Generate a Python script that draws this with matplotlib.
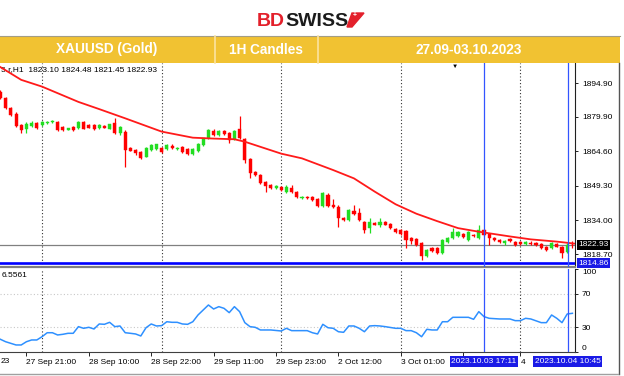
import matplotlib.pyplot as plt
import matplotlib.transforms as mtransforms
from matplotlib.patches import Rectangle, Polygon
from matplotlib.lines import Line2D

plt.rcParams['font.family'] = ['Liberation Sans', 'DejaVu Sans']

# --- data (XAUUSD H1, 27 Sep 16:00 .. 4 Oct 11:00) ---
opens = [1891.0, 1888.2, 1883.8, 1881.2, 1876.2, 1874.6, 1875.8, 1877.1, 1876.2, 1877.1,
         1877.6, 1877.7, 1875.3, 1874.2, 1875.3, 1874.9, 1877.6, 1876.2, 1876.2, 1874.9,
         1876.0, 1874.6, 1877.0, 1872.6, 1873.3, 1865.8, 1865.1, 1864.2, 1862.2, 1865.1,
         1865.4, 1866.1, 1865.4, 1867.0, 1865.4, 1866.6, 1865.4, 1863.3, 1864.8, 1867.3,
         1870.3, 1873.7, 1871.8, 1873.7, 1872.6, 1869.9, 1874.3, 1869.9, 1861.0, 1855.5,
         1854.0, 1851.0, 1849.6, 1848.4, 1848.6, 1846.4, 1848.4, 1846.5, 1843.8, 1844.2,
         1844.4, 1843.4, 1840.2, 1845.2, 1840.6, 1840.0, 1835.0, 1834.0, 1838.0, 1837.0,
         1833.0, 1830.4, 1832.7, 1832.0, 1833.1, 1832.2, 1830.0, 1829.5, 1829.1, 1826.0,
         1825.5, 1823.8, 1818.0, 1821.6, 1821.6, 1819.3, 1824.4, 1825.8, 1827.0, 1827.8,
         1825.1, 1827.3, 1826.1, 1829.5, 1827.6, 1826.0, 1825.1, 1823.6, 1825.4, 1824.4,
         1824.4, 1823.3, 1824.0, 1824.0, 1823.3, 1821.9, 1821.5, 1823.3, 1821.9, 1819.6,
         1823.10]
highs = [1892.0, 1888.8, 1884.2, 1881.8, 1876.6, 1877.6, 1878.0, 1877.6, 1878.2, 1877.9,
         1878.4, 1878.1, 1875.6, 1875.0, 1875.6, 1878.0, 1878.2, 1876.6, 1876.6, 1876.7,
         1876.4, 1876.8, 1879.5, 1875.6, 1873.8, 1866.3, 1865.6, 1864.6, 1866.3, 1867.7,
         1868.0, 1866.6, 1867.8, 1867.6, 1866.5, 1867.0, 1865.8, 1865.9, 1868.4, 1870.5,
         1874.3, 1874.3, 1874.0, 1874.1, 1873.0, 1874.0, 1880.2, 1870.6, 1861.5, 1856.0,
         1854.4, 1851.4, 1850.0, 1849.4, 1849.0, 1849.4, 1849.5, 1847.0, 1844.8, 1844.6,
         1844.8, 1843.8, 1846.6, 1845.8, 1843.4, 1840.5, 1835.4, 1838.8, 1840.8, 1839.4,
         1833.5, 1834.9, 1833.2, 1834.9, 1833.6, 1832.6, 1830.4, 1830.0, 1829.6, 1826.5,
         1826.0, 1824.3, 1821.1, 1822.0, 1822.0, 1825.6, 1826.4, 1830.4, 1829.0, 1828.2,
         1828.9, 1827.8, 1831.8, 1830.0, 1828.1, 1826.4, 1825.5, 1825.3, 1825.9, 1824.8,
         1824.8, 1824.6, 1824.5, 1824.4, 1823.8, 1822.3, 1824.2, 1823.8, 1822.3, 1823.6,
         1824.48]
lows = [1888.0, 1883.5, 1880.3, 1875.4, 1872.7, 1872.5, 1875.3, 1874.5, 1875.6, 1876.8,
        1877.2, 1873.6, 1873.7, 1873.8, 1873.7, 1874.5, 1874.3, 1874.9, 1874.0, 1874.5,
        1874.8, 1874.3, 1872.3, 1871.8, 1857.7, 1864.5, 1862.9, 1861.3, 1861.8, 1864.8,
        1865.0, 1864.0, 1865.0, 1865.6, 1865.0, 1863.8, 1862.8, 1862.9, 1864.4, 1866.9,
        1870.0, 1871.5, 1871.4, 1871.8, 1868.1, 1869.4, 1869.9, 1859.2, 1852.5, 1853.6,
        1850.2, 1846.6, 1847.8, 1847.9, 1846.9, 1846.0, 1846.1, 1844.0, 1843.5, 1843.5,
        1842.6, 1839.9, 1839.8, 1839.8, 1839.4, 1831.0, 1833.6, 1833.6, 1836.2, 1833.6,
        1828.1, 1828.1, 1831.6, 1830.9, 1831.6, 1830.2, 1828.4, 1827.5, 1821.6, 1823.4,
        1822.5, 1816.2, 1817.6, 1820.0, 1818.9, 1818.9, 1824.0, 1825.4, 1826.6, 1826.0,
        1824.7, 1826.5, 1825.7, 1826.9, 1822.9, 1824.6, 1823.8, 1822.8, 1824.3, 1822.5,
        1822.9, 1822.9, 1822.8, 1822.5, 1821.2, 1820.3, 1821.1, 1821.8, 1817.0, 1819.2,
        1821.45]
closes = [1888.2, 1883.8, 1880.7, 1875.8, 1874.0, 1876.7, 1877.1, 1874.9, 1877.6, 1877.7,
          1878.0, 1874.0, 1874.0, 1874.8, 1874.0, 1877.6, 1874.6, 1875.1, 1874.5, 1876.2,
          1875.1, 1876.6, 1872.6, 1875.5, 1865.1, 1864.8, 1863.6, 1861.7, 1865.9, 1867.3,
          1867.6, 1864.4, 1867.3, 1866.0, 1866.2, 1864.2, 1863.3, 1865.5, 1868.0, 1870.3,
          1874.0, 1871.8, 1873.7, 1872.1, 1869.6, 1873.7, 1870.3, 1860.7, 1854.8, 1854.0,
          1850.3, 1849.1, 1848.4, 1848.9, 1847.3, 1848.8, 1846.5, 1844.4, 1844.4, 1843.8,
          1842.9, 1840.2, 1845.9, 1840.2, 1839.7, 1834.8, 1834.0, 1838.5, 1836.6, 1834.0,
          1829.6, 1833.2, 1831.8, 1832.9, 1832.0, 1830.4, 1828.7, 1827.8, 1825.1, 1824.8,
          1822.9, 1818.0, 1820.7, 1820.3, 1819.3, 1825.1, 1826.0, 1828.8, 1828.7, 1826.4,
          1828.5, 1826.9, 1829.5, 1827.3, 1825.8, 1824.9, 1824.2, 1824.8, 1824.7, 1822.9,
          1823.2, 1824.3, 1823.5, 1822.9, 1821.5, 1820.7, 1823.7, 1822.1, 1819.5, 1823.1,
          1822.93]

ma_bars = [-0.1, 4, 8, 15, 19, 24, 31, 37, 41, 45, 47, 54, 58, 61, 64, 68, 72, 76,
           80, 84, 88, 92, 98, 102, 107, 110.5]
ma_vals = [1902.1, 1896.3, 1893.3, 1886.5, 1883.3, 1879.2, 1873.3, 1870.6, 1870.2,
           1869.9, 1868.8, 1863.5, 1861.4, 1858.8, 1856.2, 1852.5, 1846.6, 1841.0,
           1836.8, 1833.5, 1830.4, 1828.8, 1826.7, 1825.4, 1824.4, 1823.5]

rsi_bars = [0, 1, 3, 4, 5, 6, 7, 8, 9, 10,
            11, 12, 13, 14, 15, 16, 17, 18, 19, 20, 21, 22, 23, 24, 25, 26, 27, 28,
            29, 30, 31, 32, 33, 34, 35, 36, 37, 38,
            40, 41, 42, 43, 44, 45, 46, 47, 48, 49, 50, 51, 52,
            54, 55, 56, 57,
            59, 60, 61, 62, 63, 64, 65, 66, 67, 68, 69, 70, 71, 72, 73, 74,
            76, 77, 78, 79, 80, 81, 82, 83, 84, 85, 86, 87, 88,
            90, 91, 92, 93, 94,
            96, 98, 99, 100, 101, 102,
            104, 105, 106, 107, 108, 109, 110]
rsi_vals = [15.6, 12.7, 8.8, 8.8, 12.7, 14.8, 14.8, 18.7, 23.5, 23.5,
            20.8, 21.6, 22.8, 22.8, 30.8, 28.8, 30.0, 28.0, 34.0, 33.6, 36.0, 30.8,
            31.6, 23.5, 22.8, 22.0, 19.6, 29.5, 34.0, 31.6, 32.0, 36.7, 36.0, 36.0,
            34.0, 33.6, 36.7, 44.8,
            56.8, 52.0, 54.8, 52.8, 47.6, 54.8, 48.8, 35.6, 30.8, 30.0, 26.8, 26.8, 26.8,
            25.6, 28.8, 26.0, 26.0,
            26.0, 23.5, 22.0, 33.6, 29.5, 28.8, 24.7, 24.0, 31.6, 31.6, 28.8, 24.7,
            31.6, 32.0, 31.6, 30.8,
            28.8, 28.8, 26.0, 26.0, 23.5, 18.7, 27.6, 26.8, 26.8, 36.7, 36.7, 42.0, 42.0,
            42.0, 39.6, 48.8, 42.8, 40.8,
            40.0, 40.0, 38.0, 38.0, 40.8, 40.0,
            35.6, 35.6, 44.8, 40.8, 35.6, 46.0, 46.8]

price_ticks = [1894.90, 1879.90, 1864.60, 1849.30, 1834.00, 1818.70]
rsi_ticks = [100, 70, 30, 0]
# the label at bar 89 sits under the 17:11 marker box, only "4" of the bar-100 label shows
time_bars = [5, 17, 29, 41, 53, 65, 77, 89, 100]
time_labels = ['27 Sep 21:00', '28 Sep 10:00', '28 Sep 22:00', '29 Sep 11:00',
               '29 Sep 23:00', '2 Oct 12:00', '3 Oct 01:00', '', '4']
first_label = '23'
day_bars = [8, 31, 54, 77, 100]
last_price = 1822.93
level_price = 1814.86
vline_bars = [93.0, 109.1]
vline_labels = ['2023.10.03 17:11', '2023.10.04 10:45']
info_text = '5.r,H1  1823.10 1824.48 1821.45 1822.93'
rsi_info = '6.5561'

W, H = 624, 376
UP, DOWN = '#22dd22', '#ff0000'

fig = plt.figure(figsize=(W / 100, H / 100), dpi=100)


def fx(x):
    return x / W


def fy(y):
    return 1 - y / H


# --- header: logo + yellow banner ---
fig.text(fx(257), fy(21), 'BD', color='#e3202b', fontsize=14, fontweight='bold', va='center')
fig.text(fx(285), fy(21), 'SWISS', color='#1b1b1b', fontsize=14, fontweight='bold', va='center')
fig.add_artist(Polygon([(fx(352), fy(13)), (fx(364), fy(13)), (fx(352), fy(27)), (fx(347), fy(27))],
                       closed=True, transform=fig.transFigure, color='#e3202b'))
fig.text(fx(355), fy(16), '+', color='white', fontsize=5, fontweight='bold', ha='center', va='center')

fig.add_artist(Rectangle((0, fy(62.5)), fx(620), (62.5 - 36) / H, transform=fig.transFigure,
                         facecolor='#f1c232', edgecolor='none'))
fig.add_artist(Line2D([0, fx(620)], [fy(36), fy(36)], transform=fig.transFigure, color='#a39d84', lw=0.8))
for xd in (215, 318):
    fig.add_artist(Line2D([fx(xd), fx(xd)], [fy(36), fy(62.5)], transform=fig.transFigure,
                          color='#fbe3a0', lw=1.2))
for xc, txt in ((107, 'XAUUSD (Gold)'), (266, '1H Candles'), (469, '27.09-03.10.2023')):
    fig.text(fx(xc), fy(49.5), txt, color='white', fontsize=9.8, fontweight='bold',
             ha='center', va='center')

# --- price panel ---
ax = fig.add_axes([0, fy(267), fx(575), (267 - 63) / H])
ax.set_xlim(-0.08, 110.5)
ax.set_ylim(1813.12, 1903.79)

for i in range(len(opens)):
    o, h, l, c = opens[i], highs[i], lows[i], closes[i]
    col = UP if c > o else DOWN
    ax.vlines(i, l, h, color=col, lw=0.9, zorder=3)
    ax.bar(i, c - o, bottom=o, width=0.58, color=col, edgecolor=col, lw=0.3, zorder=3)

ax.plot(ma_bars, ma_vals, color='#ff1a1a', lw=1.3, zorder=4)
ax.axhline(last_price, color='#808080', lw=0.9, zorder=1)
ax.axhline(level_price, color='#0000ff', lw=1.9, zorder=5)

for spine in ('left', 'top'):
    ax.spines[spine].set_visible(False)
ax.spines['right'].set_color('#202020')
ax.spines['right'].set_linewidth(0.8)
ax.spines['bottom'].set_color('#808080')
ax.spines['bottom'].set_linewidth(1.6)
ax.tick_params(axis='x', bottom=False, labelbottom=False)
ax.yaxis.tick_right()
ax.set_yticks(price_ticks, labels=[f'{v:.2f}' for v in price_ticks])
ax.tick_params(axis='y', length=2.5, width=0.6, pad=2.5, labelsize=6)

ax.text(0.002, 1 - 7 / 204, info_text, transform=ax.transAxes, fontsize=6, va='center', ha='left')
ax.text(87.4, 1903.6, '\u25bc', fontsize=4.5, ha='center', va='top', color='black')

trans_y = mtransforms.blended_transform_factory(ax.transAxes, ax.transData)
ax.text(1.006, last_price, f'{last_price:.2f}', transform=trans_y, fontsize=6, color='white',
        va='center', ha='left', zorder=6,
        bbox=dict(boxstyle='square,pad=0.2', facecolor='black', edgecolor='none'))
ax.text(1.006, level_price, f'{level_price:.2f}', transform=trans_y, fontsize=6, color='white',
        va='center', ha='left', zorder=6, clip_on=False,
        bbox=dict(boxstyle='square,pad=0.2', facecolor='#1a1ae6', edgecolor='none'))

# --- oscillator panel ---
ax2 = fig.add_axes([0, fy(352.3), fx(575), (352.3 - 269) / H], sharex=ax)
ax2.set_ylim(0, 100)
ax2.plot(rsi_bars, rsi_vals, color='#2e90ff', lw=1.1, zorder=3)
for lvl in (70, 30):
    ax2.axhline(lvl, color='#c8c8c8', lw=0.8, ls=(0, (1, 2)), zorder=1)

for spine in ('left', 'top'):
    ax2.spines[spine].set_visible(False)
ax2.spines['right'].set_color('#202020')
ax2.spines['right'].set_linewidth(0.8)
ax2.spines['bottom'].set_color('#404040')
ax2.spines['bottom'].set_linewidth(0.8)
ax2.yaxis.tick_right()
ax2.set_yticks(rsi_ticks, labels=[str(v) for v in rsi_ticks])
ax2.tick_params(axis='y', length=2.5, width=0.6, pad=2.5, labelsize=6)
ylabels = ax2.get_yticklabels()
ylabels[0].set_va('top')
ylabels[-1].set_va('bottom')
ax2.set_xticks(time_bars, labels=time_labels)
ax2.tick_params(axis='x', length=3, width=0.6, pad=1.5, labelsize=6)
for lbl in ax2.get_xticklabels():
    lbl.set_ha('left')
ax2.text(0.001, -0.115, first_label, transform=ax2.transAxes, fontsize=6, ha='left', va='center')
ax2.text(0.002, 0.92, rsi_info, transform=ax2.transAxes, fontsize=6, va='center', ha='left')

# day separators and vertical markers across both panels
for a in (ax, ax2):
    for b in day_bars:
        a.axvline(b, color='#303030', lw=0.8, ls=(0, (1, 2)), zorder=2)
    for b in vline_bars:
        a.axvline(b, color='#3355ff', lw=0.9, zorder=5)

trans_x = mtransforms.blended_transform_factory(ax2.transData, ax2.transAxes)
for b, txt in zip(vline_bars, vline_labels):
    ax2.text(b, -0.11, txt, transform=trans_x, fontsize=6, color='white', ha='center', va='center',
             zorder=6, clip_on=False,
             bbox=dict(boxstyle='square,pad=0.2', facecolor='#1a1ae6', edgecolor='none'))

# window frame
fig.add_artist(Line2D([fx(618.5), fx(618.5)], [fy(63), fy(374)], transform=fig.transFigure,
                      color='#555555', lw=1.0))
fig.add_artist(Line2D([0, fx(618)], [fy(374), fy(374)], transform=fig.transFigure,
                      color='#a0a0a0', lw=1.0))

fig.savefig('out.png', dpi=100)
